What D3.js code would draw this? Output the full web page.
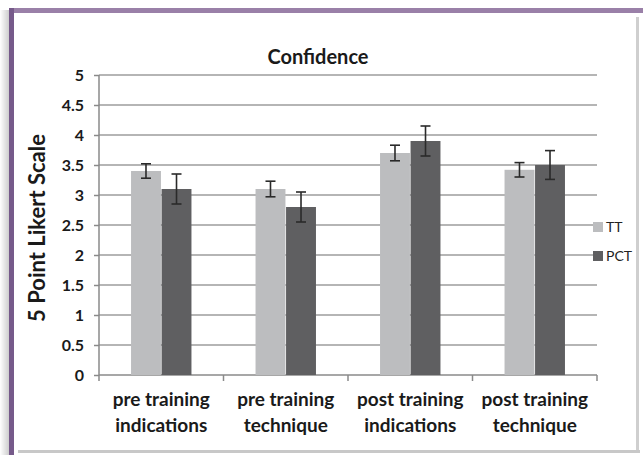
<!DOCTYPE html>
<html><head><meta charset="utf-8">
<script src="https://cdn.jsdelivr.net/npm/d3@7"></script>
<style>body{margin:0;background:#fff}svg{display:block}</style>
</head><body><svg id="c" width="643" height="455"></svg>
<script>
const categories = [["pre training","indications"],["pre training","technique"],["post training","indications"],["post training","technique"]];
const seriesNames = ["TT","PCT"];
const ttValues = [3.4, 3.1, 3.7, 3.42];
const pctValues = [3.1, 2.8, 3.9, 3.5];
const ttErrors = [0.12, 0.13, 0.13, 0.12];
const pctErrors = [0.25, 0.25, 0.25, 0.24];
const yTicks = [0,0.5,1,1.5,2,2.5,3,3.5,4,4.5,5];
const title = "Confidence";
const yTitle = "5 Point Likert Scale";

const colors = ["#bcbdbf","#5f5f61"];
const font = "Lato, 'Open Sans', sans-serif";
const svg = d3.select("#c");

// frame
const defs = svg.append("defs");
const g1 = defs.append("linearGradient").attr("id","lsh").attr("x1",0).attr("x2",1);
g1.append("stop").attr("offset",0).attr("stop-color","#fff");
g1.append("stop").attr("offset",1).attr("stop-color","#c8c8c8");
svg.append("rect").attr("x",0).attr("y",10).attr("width",10).attr("height",445).attr("fill","url(#lsh)");
svg.append("rect").attr("x",14).attr("y",13).attr("width",622).attr("height",438).attr("fill","#fff");
svg.append("rect").attr("x",636).attr("y",17).attr("width",3).attr("height",436).attr("fill","#cfcfcf");
svg.append("rect").attr("x",18).attr("y",450).attr("width",622).attr("height",3).attr("fill","#c8c8c8");
svg.append("rect").attr("x",9).attr("y",8).attr("width",634).attr("height",5).attr("fill","#9a80a8");
svg.append("rect").attr("x",9).attr("y",8).attr("width",5).attr("height",447).attr("fill","#765a8a");

const x0 = 99, x1 = 597, yTop = 75, yBot = 375;
const x = d3.scaleBand().domain(d3.range(categories.length)).range([x0,x1]);
const xs = d3.scaleBand().domain(seriesNames).range([0, x.bandwidth()]).paddingInner(0.02).paddingOuter(1.05);
const y = d3.scaleLinear().domain([0,5]).range([yBot,yTop]);

// gridlines
svg.append("g").selectAll("line").data(yTicks.filter(d=>d>0)).join("line")
  .attr("x1",x0).attr("x2",x1).attr("y1",d=>y(d)).attr("y2",d=>y(d))
  .attr("stroke","#9d9d9d").attr("stroke-width",1.5);

// y axis
const ya = svg.append("g").attr("transform",`translate(${x0},0)`)
  .call(d3.axisLeft(y).tickValues(yTicks).tickSize(5).tickPadding(10).tickFormat(d3.format("")));
ya.select(".domain").attr("stroke","#8a8a8a").attr("stroke-width",1.5).attr("d",`M0,${yTop}V${yBot}`);
ya.selectAll(".tick line").attr("stroke","#8a8a8a").attr("stroke-width",1.5);
ya.selectAll("text").attr("font-family",font).attr("font-weight","bold").attr("font-size",16).attr("fill","#1a1a1a");

// x axis
const xa = svg.append("g");
xa.append("line").attr("x1",x0).attr("x2",x1).attr("y1",yBot).attr("y2",yBot).attr("stroke","#8a8a8a").attr("stroke-width",1.5);
xa.selectAll("line.t").data(d3.range(categories.length+1)).join("line").attr("class","t")
  .attr("x1",d=>x0+d*x.step()).attr("x2",d=>x0+d*x.step()).attr("y1",yBot).attr("y2",yBot+6)
  .attr("stroke","#8a8a8a").attr("stroke-width",1.5);
const lab = xa.selectAll("text").data(categories).join("text")
  .attr("x",(d,i)=>x(i)+x.bandwidth()/2).attr("y",406)
  .attr("text-anchor","middle").attr("font-family",font).attr("font-weight","bold").attr("font-size",19).attr("fill","#1a1a1a");
lab.selectAll("tspan").data(d=>d).join("tspan")
  .attr("x",function(){return this.parentNode.getAttribute("x");})
  .attr("dy",(d,i)=>i?26:0).text(d=>d);

// bars
const data = categories.map((c,i)=>({i, vals:[{s:"TT",v:ttValues[i],e:ttErrors[i]},{s:"PCT",v:pctValues[i],e:pctErrors[i]}]}));
const grp = svg.append("g").selectAll("g").data(data).join("g").attr("transform",d=>`translate(${x(d.i)},0)`);
grp.selectAll("rect").data(d=>d.vals).join("rect")
  .attr("x",d=>xs(d.s)).attr("width",xs.bandwidth())
  .attr("y",d=>y(d.v)).attr("height",d=>yBot-y(d.v))
  .attr("fill",(d,j)=>colors[j]);
const eb = grp.selectAll("g.eb").data(d=>d.vals).join("g").attr("class","eb")
  .attr("stroke","#2a2a2a").attr("stroke-width",1.6);
eb.append("line").attr("x1",d=>xs(d.s)+xs.bandwidth()/2).attr("x2",d=>xs(d.s)+xs.bandwidth()/2)
  .attr("y1",d=>y(d.v+d.e)).attr("y2",d=>y(d.v-d.e));
eb.append("line").attr("x1",d=>xs(d.s)+xs.bandwidth()/2-5).attr("x2",d=>xs(d.s)+xs.bandwidth()/2+5)
  .attr("y1",d=>y(d.v+d.e)).attr("y2",d=>y(d.v+d.e));
eb.append("line").attr("x1",d=>xs(d.s)+xs.bandwidth()/2-5).attr("x2",d=>xs(d.s)+xs.bandwidth()/2+5)
  .attr("y1",d=>y(d.v-d.e)).attr("y2",d=>y(d.v-d.e));

// title
svg.append("text").attr("x",318).attr("y",64).attr("text-anchor","middle")
  .attr("font-family",font).attr("font-weight","bold").attr("font-size",20).attr("fill","#1a1a1a").text(title);
svg.append("text").attr("transform","translate(45,228) rotate(-90)").attr("text-anchor","middle")
  .attr("font-family",font).attr("font-weight","bold").attr("font-size",22).attr("fill","#1a1a1a").text(yTitle);

// legend
const lg = svg.append("g").selectAll("g").data(seriesNames).join("g")
  .attr("transform",(d,i)=>`translate(593,${222+i*29})`);
lg.append("rect").attr("width",10).attr("height",10).attr("fill",(d,i)=>colors[i]);
lg.append("text").attr("x",13).attr("y",10).attr("font-family",font).attr("font-size",14).attr("fill","#222").text(d=>d);
</script></body></html>
